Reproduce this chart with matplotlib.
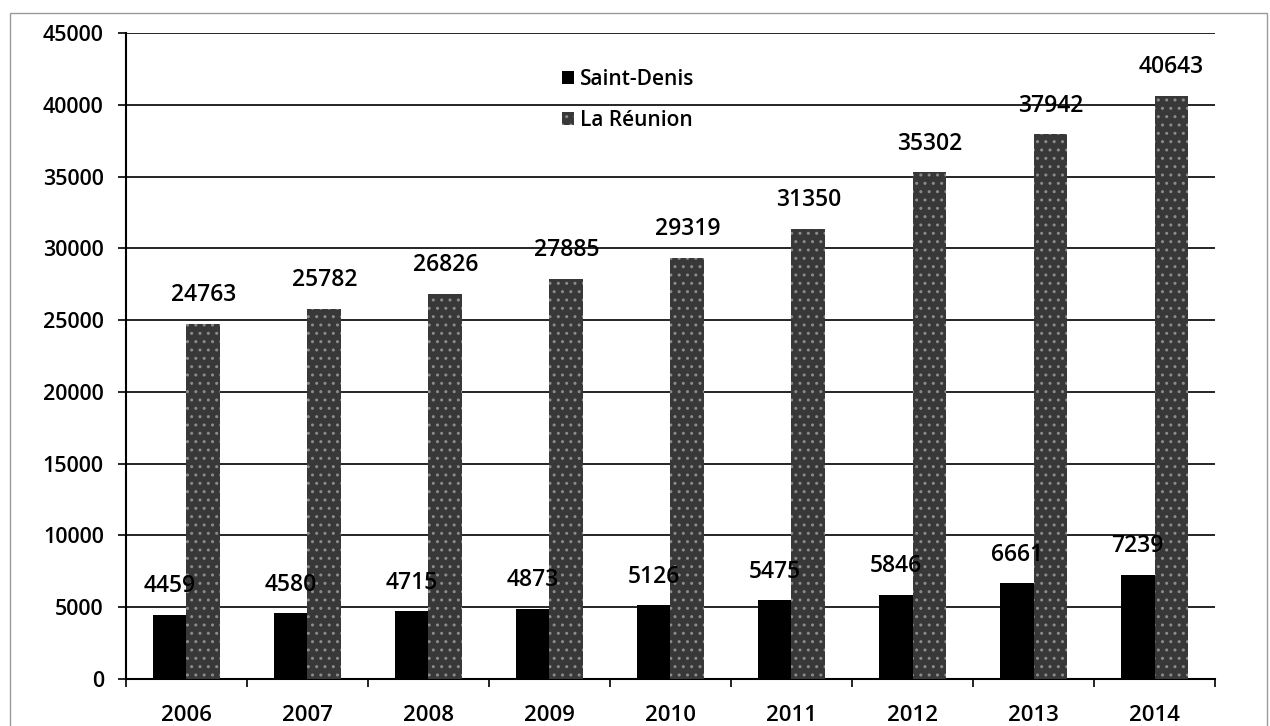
import numpy as np
import matplotlib
matplotlib.use('Agg')
import matplotlib.pyplot as plt
from matplotlib.patches import Patch, Rectangle

# data
years = ['2006', '2007', '2008', '2009', '2010', '2011', '2012', '2013', '2014']
saint_denis = [4459, 4580, 4715, 4873, 5126, 5475, 5846, 6661, 7239]
la_reunion = [24763, 25782, 26826, 27885, 29319, 31350, 35302, 37942, 40643]
series_names = ['Saint-Denis', 'La Réunion']

plt.rcParams['font.family'] = ['Open Sans', 'DejaVu Sans']
plt.rcParams['font.weight'] = 'semibold'
plt.rcParams['hatch.linewidth'] = 1.0

fig = plt.figure(figsize=(12.7, 7.26), dpi=100)
ax = fig.add_axes([0.0992, 0.0647, 0.8575, 0.8898])

x = np.arange(len(years))
w = 0.28
sd_bars = ax.bar(x - w/2, saint_denis, w, color='black', zorder=3)
lr_bars = ax.bar(x + w/2, la_reunion, w, facecolor='#383838', edgecolor='#8c8c8c',
                 hatch='..', linewidth=0, zorder=3)

# value labels above the bars
for bars, vals in [(sd_bars, saint_denis), (lr_bars, la_reunion)]:
    for b, v in zip(bars, vals):
        ax.annotate(str(v), (b.get_x() + b.get_width()/2, v), xytext=(0, 12),
                    textcoords='offset points', ha='center', va='bottom',
                    fontsize=16.5, zorder=4)

ax.set_xlim(-0.5, len(years) - 0.5)
ax.set_ylim(0, 45000)
ax.set_yticks(np.arange(0, 45001, 5000))
ax.yaxis.grid(True, color='black', linewidth=1.2, zorder=1)
ax.set_axisbelow(True)

ax.set_xticks(x)
ax.set_xticklabels(years, fontsize=16)
ax.set_xticks(np.arange(-0.5, len(years)), minor=True)
ax.tick_params(axis='x', which='major', length=0, pad=19)
ax.tick_params(axis='x', which='minor', length=6, width=1.2, color='black')
ax.tick_params(axis='y', length=6, width=1.2, labelsize=15.5, pad=10)

for s in ['top', 'right']:
    ax.spines[s].set_visible(False)
ax.spines['left'].set_linewidth(1.5)
ax.spines['bottom'].set_linewidth(1.5)

handles = [Patch(facecolor='black'),
           Patch(facecolor='#383838', edgecolor='#8c8c8c', hatch='..', linewidth=0)]
ax.legend(handles, series_names, loc='upper left', bbox_to_anchor=(0.393, 0.957),
          frameon=False, fontsize=15, handlelength=0.55, handleheight=0.55,
          handletextpad=0.3, labelspacing=0.95, borderaxespad=0)

# thin frame of the scanned page
fig.patches.append(Rectangle((0.008, -0.01), 0.99, 0.992, transform=fig.transFigure,
                             fill=False, edgecolor='#9a9a9a', linewidth=1))

fig.savefig('out.png', dpi=100)
